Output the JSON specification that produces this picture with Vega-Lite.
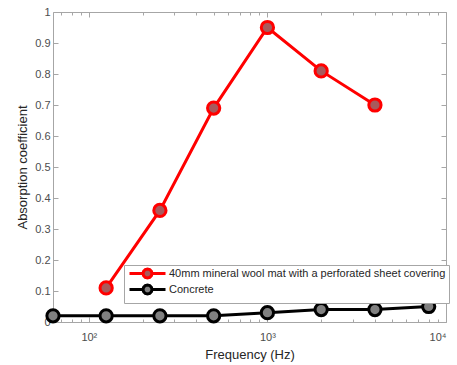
{
  "$schema": "https://vega.github.io/schema/vega-lite/v6.json",
  "width": 393,
  "height": 310,
  "autosize": "none",
  "padding": {"left": 53, "top": 12, "right": 11, "bottom": 43},
  "background": "white",
  "config": {
    "view": {"stroke": null},
    "font": "Liberation Sans",
    "axis": {"grid": false, "domainColor": "#a6a6a6", "tickColor": "#a6a6a6", "labelColor": "#4d4d4d", "labelFontSize": 11, "titleFontSize": 13, "titleFontWeight": "normal", "titleColor": "#262626"},
    "legend": {
      "orient": "none", "legendX": 71, "legendY": 253, "title": null,
      "fillColor": "white", "strokeColor": "#a6a6a6", "padding": 3,
      "labelFontSize": 11, "labelColor": "#262626", "labelLimit": 500,
      "symbolType": "M-6,0L-1.5,0M1.5,0L6,0M1.5,0L1.299,0.75L0.75,1.299L0,1.5L-0.75,1.299L-1.299,0.75L-1.5,0L-1.299,-0.75L-0.75,-1.299L0,-1.5L0.75,-1.299L1.299,-0.75Z",
      "symbolSize": 36, "symbolStrokeWidth": 3, "symbolOffset": 15, "labelOffset": 16, "rowPadding": -14
    }
  },
  "data": {"values": [
    {"series": "40mm mineral wool mat with a perforated sheet covering", "freq": 125, "alpha": 0.11},
    {"series": "40mm mineral wool mat with a perforated sheet covering", "freq": 250, "alpha": 0.36},
    {"series": "40mm mineral wool mat with a perforated sheet covering", "freq": 500, "alpha": 0.69},
    {"series": "40mm mineral wool mat with a perforated sheet covering", "freq": 1000, "alpha": 0.95},
    {"series": "40mm mineral wool mat with a perforated sheet covering", "freq": 2000, "alpha": 0.81},
    {"series": "40mm mineral wool mat with a perforated sheet covering", "freq": 4000, "alpha": 0.70},
    {"series": "Concrete", "freq": 63, "alpha": 0.02},
    {"series": "Concrete", "freq": 125, "alpha": 0.02},
    {"series": "Concrete", "freq": 250, "alpha": 0.02},
    {"series": "Concrete", "freq": 500, "alpha": 0.02},
    {"series": "Concrete", "freq": 1000, "alpha": 0.03},
    {"series": "Concrete", "freq": 2000, "alpha": 0.04},
    {"series": "Concrete", "freq": 4000, "alpha": 0.04},
    {"series": "Concrete", "freq": 8000, "alpha": 0.05}
  ]},
  "resolve": {"axis": {"x": "independent", "y": "independent"}},
  "layer": [
    {
      "mark": {"type": "point", "opacity": 0, "clip": false},
      "encoding": {
        "x": {"field": "freq", "type": "quantitative", "scale": {"type": "log", "domain": [63, 10000], "nice": false},
          "axis": {"orient": "top", "values": [100, 1000, 10000], "labels": false, "tickSize": -5, "title": null}},
        "y": {"field": "alpha", "type": "quantitative", "scale": {"domain": [0, 1], "nice": false},
          "axis": {"orient": "right", "values": [0, 0.1, 0.2, 0.3, 0.4, 0.5, 0.6, 0.7, 0.8, 0.9, 1], "labels": false, "tickSize": -5, "title": null}}
      }
    },
    {
      "mark": {"type": "point", "opacity": 0, "clip": false},
      "encoding": {
        "x": {"field": "freq", "type": "quantitative",
          "axis": {"orient": "top", "values": [70, 80, 90, 200, 300, 400, 500, 600, 700, 800, 900, 2000, 3000, 4000, 5000, 6000, 7000, 8000, 9000], "labels": false, "domain": false, "tickSize": -3, "title": null}},
        "y": {"field": "alpha", "type": "quantitative", "axis": null}
      }
    },
    {
      "mark": {"type": "point", "opacity": 0, "clip": false},
      "encoding": {
        "x": {"field": "freq", "type": "quantitative",
          "axis": {"orient": "bottom", "values": [70, 80, 90, 200, 300, 400, 500, 600, 700, 800, 900, 2000, 3000, 4000, 5000, 6000, 7000, 8000, 9000], "labels": false, "domain": false, "tickSize": -3, "title": null}},
        "y": {"field": "alpha", "type": "quantitative", "axis": null}
      }
    },
    {
      "mark": {"type": "line", "strokeWidth": 3, "clip": false},
      "encoding": {
        "x": {"field": "freq", "type": "quantitative",
          "axis": {"orient": "bottom", "values": [100, 1000, 10000], "tickSize": -5, "labelPadding": 14,
            "labelExpr": "datum.value == 100 ? '10²' : datum.value == 1000 ? '10³' : '10⁴'", "title": "Frequency (Hz)", "titlePadding": 6}},
        "y": {"field": "alpha", "type": "quantitative",
          "axis": {"orient": "left", "values": [0, 0.1, 0.2, 0.3, 0.4, 0.5, 0.6, 0.7, 0.8, 0.9, 1], "format": ".1~f", "tickSize": -5, "labelPadding": 8, "title": "Absorption coefficient", "titlePadding": 5}},
        "stroke": {"field": "series", "type": "nominal", "scale": {"domain": ["40mm mineral wool mat with a perforated sheet covering", "Concrete"], "range": ["#ff0000", "#000000"]}}
      }
    },
    {
      "mark": {"type": "point", "filled": false, "size": 150, "strokeWidth": 3, "opacity": 1, "clip": false},
      "encoding": {
        "x": {"field": "freq", "type": "quantitative", "axis": null},
        "y": {"field": "alpha", "type": "quantitative", "axis": null},
        "stroke": {"field": "series", "type": "nominal"},
        "fill": {"field": "series", "type": "nominal", "scale": {"domain": ["40mm mineral wool mat with a perforated sheet covering", "Concrete"], "range": ["#a85a5c", "#808080"]}}
      }
    }
  ]
}
